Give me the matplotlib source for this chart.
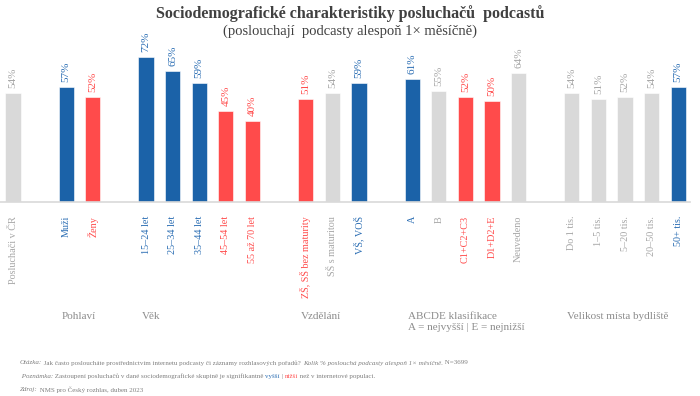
import matplotlib.pyplot as plt

categories = ["Posluchači v ČR", "Muži", "Ženy",
              "15–24 let", "25–34 let", "35–44 let", "45–54 let", "55 až 70 let",
              "ZŠ, SŠ bez maturity", "SŠ s maturitou", "VŠ, VOŠ",
              "A", "B", "C1+C2+C3", "D1+D2+E", "Neuvedeno",
              "Do 1 tis.", "1–5 tis.", "5–20 tis.", "20–50 tis.", "50+ tis."]
values = [54, 57, 52, 72, 65, 59, 45, 40, 51, 54, 59, 61, 55, 52, 50, 64,
          54, 51, 52, 54, 57]
# h = significantly higher, l = lower, n = not significant
signif = ["n", "h", "l", "h", "h", "h", "l", "l", "l", "n", "h",
          "h", "n", "l", "l", "n", "n", "n", "n", "n", "h"]
slots = [0, 2, 3, 5, 6, 7, 8, 9, 11, 12, 13, 15, 16, 17, 18, 19,
         21, 22, 23, 24, 25]
groups = ["Pohlaví", "Věk", "Vzdělání",
          "ABCDE klasifikace\nA = nejvyšší | E = nejnižší",
          "Velikost místa bydliště"]
group_start = [2, 5, 11, 15, 21]

bar_col = {"h": "#1b62a8", "l": "#ff4b4b", "n": "#d9d9d9"}
txt_col = {"h": "#2a6db3", "l": "#ff4b4b", "n": "#a6a6a6"}
serif = "Liberation Serif"

fig = plt.figure(figsize=(7.0, 3.96), dpi=100)
ax = fig.add_axes([0.0, 0.49, 0.986, 0.407])
ax.bar(slots, values, width=0.57, color=[bar_col[s] for s in signif],
       edgecolor="white", linewidth=0.4)
ax.set_xlim(-0.49, 25.45)
ax.set_ylim(0, 80)
for sp in ["top", "right", "left"]:
    ax.spines[sp].set_visible(False)
ax.spines["bottom"].set_color("#d9d9d9")
ax.spines["bottom"].set_linewidth(1.2)
ax.set_yticks([])
ax.set_xticks([])

for x, v, s, c in zip(slots, values, signif, categories):
    ax.text(x, v + 2.5, f"{v}%", rotation=90, ha="center", va="bottom",
            fontsize=8, color=txt_col[s], family=serif)
    ax.annotate(c, (x, 0), xytext=(0, -10), textcoords="offset points",
                rotation=90, ha="center", va="top", fontsize=7.3,
                color=txt_col[s], family=serif)

for g, gs in zip(groups, group_start):
    ax.annotate(g, (gs - 0.17, 0), xytext=(0, -79), textcoords="offset points",
                ha="left", va="top", fontsize=8.0, color="#8c8c8c",
                family=serif, linespacing=1.3)

fig.text(0.5, 0.965, "Sociodemografické charakteristiky posluchačů  podcastů",
         ha="center", va="center", fontsize=11.5, fontweight="bold",
         color="#404040", family=serif)
fig.text(0.5, 0.92, "(poslouchají  podcasty alespoň 1× měsíčně)",
         ha="center", va="center", fontsize=10.5, color="#404040", family=serif)

# footnotes built from runs of differently styled text
notes = [
    [("Otázka:", "italic", "#7f7f7f"),
     (" Jak často posloucháte prostřednictvím internetu podcasty či záznamy rozhlasových pořadů? ", "normal", "#7f7f7f"),
     ("Kolik % poslouchá podcasty alespoň 1× měsíčně.", "italic", "#7f7f7f"),
     (" N=3699", "normal", "#7f7f7f")],
    [(" Poznámka:", "italic", "#7f7f7f"),
     (" Zastoupení posluchačů v dané sociodemografické skupině je signifikantně ", "normal", "#7f7f7f"),
     ("vyšší", "normal", "#2a6db3"),
     (" | ", "normal", "#7f7f7f"),
     ("nižší", "normal", "#ff4b4b"),
     (" než v internetové populaci.", "normal", "#7f7f7f")],
    [("Zdroj:", "italic", "#7f7f7f"),
     (" NMS pro Český rozhlas, duben 2023", "normal", "#7f7f7f")],
]
renderer = fig.canvas.get_renderer()
for i, line in enumerate(notes):
    x = 20
    y = 396 - 363 - i * 13.5
    for txt, style, col in line:
        t = fig.text(x / 700, y / 396, txt, ha="left", va="center",
                     fontsize=5.0, style=style, color=col, family=serif)
        x += t.get_window_extent(renderer).width

fig.savefig("out.png", dpi=100)
